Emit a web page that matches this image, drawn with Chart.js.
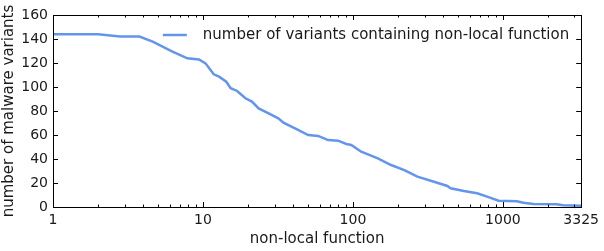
<!DOCTYPE html>
<html>
<head>
<meta charset="utf-8">
<script src="https://cdn.jsdelivr.net/npm/chart.js@4.4.0/dist/chart.umd.min.js"></script>
<style>
  html, body { margin: 0; padding: 0; background: #fff; }
  #wrap { width: 604px; height: 251px; }
</style>
</head>
<body>
<div id="wrap"><canvas id="chart"></canvas></div>
<script>
// non-local function rank (log x) vs number of variants
const functionRank = [1, 2, 2.8, 3.77, 4.62, 6.26, 7.87, 9.41, 10.4, 11.8, 12.8, 14.3, 15.3, 16.9, 19.2, 21.2, 23.5, 27.4, 31.8, 34.4, 41.1, 50.3, 58.6, 68.3, 79.6, 90.3, 97.5, 113.5, 146.5, 179.5, 220, 269, 347, 426, 448, 549, 673, 784, 936, 1238, 1371, 1597, 2279, 2523, 3325];
const variantCount = [144, 144, 142, 142, 137.8, 129.4, 123.9, 123, 119.7, 110.6, 108.6, 104.4, 99, 96.7, 90.6, 87.8, 82.2, 78, 73.9, 70.3, 65.5, 60, 59.2, 55.8, 55.3, 52.5, 51.7, 46.1, 40.6, 35, 30.8, 25.3, 21.1, 17.5, 15.6, 13.3, 11.4, 8.6, 5.3, 4.7, 3.6, 2.5, 2.2, 1.4, 1];
const xTickLabels = [1, 10, 100, 1000, 3325];
const xMinorTicks = [2, 3, 4, 5, 6, 7, 8, 9, 20, 30, 40, 50, 60, 70, 80, 90, 200, 300, 400, 500, 600, 700, 800, 900, 2000, 3000];
const yTickLabels = [0, 20, 40, 60, 80, 100, 120, 140, 160];
const seriesLabel = "number of variants containing non-local function";

const FONT = "'DejaVu Sans', sans-serif";
const INK = "#1a1a1a";
const BLUE = "#6495ed";

// frame, inward ticks on all four sides, and legend
const framePlugin = {
  id: "frame",
  afterDraw(chart) {
    const { ctx, chartArea: a } = chart;
    const xs = chart.scales.x, ys = chart.scales.y;
    ctx.save();
    ctx.strokeStyle = "#000";
    ctx.lineWidth = 1;
    ctx.beginPath();
    xs.ticks.forEach((t) => {
      const px = Math.round(xs.getPixelForValue(t.value)) + 0.5;
      const len = t.major ? 5 : 2.5;
      ctx.moveTo(px, a.bottom); ctx.lineTo(px, a.bottom - len);
      ctx.moveTo(px, a.top); ctx.lineTo(px, a.top + len);
    });
    ys.ticks.forEach((t) => {
      const py = Math.round(ys.getPixelForValue(t.value)) + 0.5;
      ctx.moveTo(a.left, py); ctx.lineTo(a.left + 5, py);
      ctx.moveTo(a.right, py); ctx.lineTo(a.right - 5, py);
    });
    ctx.stroke();
    ctx.strokeRect(Math.round(a.left) + 0.5, Math.round(a.top) + 0.5,
      Math.round(a.right - a.left), Math.round(a.bottom - a.top));

    // legend
    ctx.font = "15px " + FONT;
    ctx.fillStyle = INK;
    ctx.textBaseline = "middle";
    const ds = chart.data.datasets[0];
    const w = ctx.measureText(ds.label).width;
    const tx = a.right - 12 - w;
    const ly = a.top + 20;
    ctx.fillText(ds.label, tx, ly);
    ctx.strokeStyle = ds.borderColor;
    ctx.lineWidth = ds.borderWidth;
    ctx.beginPath();
    ctx.moveTo(tx - 40, ly);
    ctx.lineTo(tx - 16, ly);
    ctx.stroke();
    ctx.restore();
  },
};

new Chart(document.getElementById("chart"), {
  type: "line",
  data: {
    datasets: [
      {
        label: seriesLabel,
        data: functionRank.map((x, i) => ({ x: x, y: variantCount[i] })),
        borderColor: BLUE,
        backgroundColor: BLUE,
        borderWidth: 2.5,
        pointRadius: 0,
        tension: 0,
        fill: false,
      },
    ],
  },
  options: {
    responsive: true,
    maintainAspectRatio: false,
    animation: false,
    layout: { padding: { top: 15, right: 19, left: 0, bottom: 0 } },
    plugins: {
      legend: { display: false },
      tooltip: { enabled: false },
    },
    scales: {
      x: {
        type: "logarithmic",
        min: 1,
        max: 3325,
        afterBuildTicks(scale) {
          const vals = xTickLabels.concat(xMinorTicks).sort((p, q) => p - q);
          scale.ticks = vals.map((v) => ({ value: v, major: xTickLabels.includes(v) }));
        },
        afterFit(scale) { scale.height = 44; },
        grid: { display: false, drawTicks: false },
        border: { display: false },
        ticks: {
          autoSkip: false,
          maxRotation: 0,
          padding: 5,
          color: INK,
          font: { family: FONT, size: 14 },
          callback: (v) => (xTickLabels.includes(v) ? String(v) : ""),
        },
        title: {
          display: true,
          text: "non-local function",
          color: INK,
          font: { family: FONT, size: 15 },
          padding: { top: 0, bottom: 3 },
        },
      },
      y: {
        min: 0,
        max: 160,
        afterBuildTicks(scale) {
          scale.ticks = yTickLabels.map((v) => ({ value: v }));
        },
        afterFit(scale) { scale.width = 53; },
        grid: { display: false, drawTicks: false },
        border: { display: false },
        ticks: {
          padding: 5,
          color: INK,
          font: { family: FONT, size: 14 },
        },
        title: {
          display: true,
          text: "number of malware variants",
          color: INK,
          font: { family: FONT, size: 15 },
          padding: { top: 0, bottom: 0 },
        },
      },
    },
  },
  plugins: [framePlugin],
});
</script>
</body>
</html>
